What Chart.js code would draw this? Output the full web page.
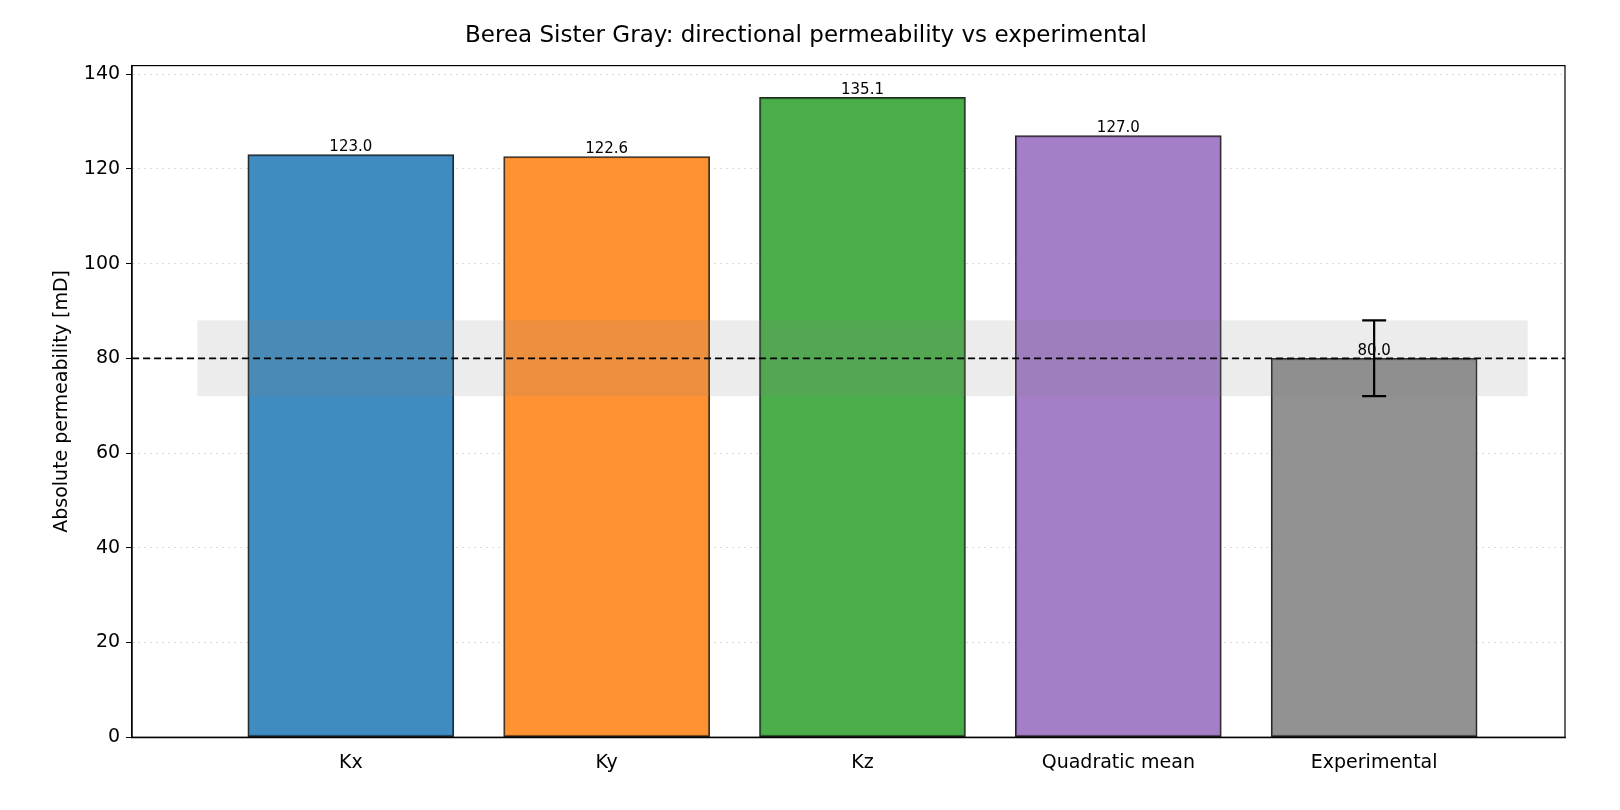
<!DOCTYPE html>
<html>
<head>
<meta charset="utf-8">
<script src="https://cdn.jsdelivr.net/npm/chart.js@4.4.0/dist/chart.umd.min.js"></script>
<style>
  html, body { margin: 0; padding: 0; background: #fff; }
  #wrap { width: 1620px; height: 810px; }
</style>
</head>
<body>
<div id="wrap"><canvas id="permChart"></canvas></div>
<script>
// Dati
const categories = ['Kx', 'Ky', 'Kz', 'Quadratic mean', 'Experimental'];
const permValues = [123.0, 122.6, 135.1, 127.0, 80.0];
const barColors = ['rgba(31,119,180,0.85)', 'rgba(255,127,14,0.85)', 'rgba(44,160,44,0.85)',
                   'rgba(148,103,189,0.85)', 'rgba(127,127,127,0.85)'];
const expValue = 80.0;
const expError = 8.0;
const bandRange = [-0.6, 4.6];
const yTicks = [0, 20, 40, 60, 80, 100, 120, 140];

// Banda grigia, linea tratteggiata, barra d'errore ed etichette
const overlayPlugin = {
    id: 'overlay',
    afterDatasetsDraw(chart) {
        const { ctx, scales: { x, y }, chartArea } = chart;
        ctx.save();
        // banda sperimentale
        ctx.fillStyle = 'rgba(128,128,128,0.15)';
        const bx0 = x.getPixelForValue(bandRange[0]);
        const bx1 = x.getPixelForValue(bandRange[1]);
        const by0 = y.getPixelForValue(expValue + expError);
        const by1 = y.getPixelForValue(expValue - expError);
        ctx.fillRect(bx0, by0, bx1 - bx0, by1 - by0);
        // linea tratteggiata
        ctx.strokeStyle = '#000';
        ctx.lineWidth = 1.8;
        ctx.setLineDash([7, 4]);
        ctx.beginPath();
        ctx.moveTo(chartArea.left, y.getPixelForValue(expValue));
        ctx.lineTo(chartArea.right, y.getPixelForValue(expValue));
        ctx.stroke();
        ctx.setLineDash([]);
        // etichette valori
        ctx.fillStyle = '#000';
        ctx.font = '15px "DejaVu Sans"';
        ctx.textAlign = 'center';
        ctx.textBaseline = 'bottom';
        permValues.forEach((v, i) => {
            ctx.fillText(v.toFixed(1), x.getPixelForValue(i), y.getPixelForValue(v));
        });
        // barra d'errore
        const ex = x.getPixelForValue(4);
        const eTop = y.getPixelForValue(expValue + expError);
        const eBot = y.getPixelForValue(expValue - expError);
        ctx.lineWidth = 2.2;
        ctx.beginPath();
        ctx.moveTo(ex, eTop); ctx.lineTo(ex, eBot);
        ctx.moveTo(ex - 12, eTop); ctx.lineTo(ex + 12, eTop);
        ctx.moveTo(ex - 12, eBot); ctx.lineTo(ex + 12, eBot);
        ctx.stroke();
        // bordo area
        ctx.lineWidth = 1.2;
        ctx.strokeRect(chartArea.left, chartArea.top, chartArea.right - chartArea.left, chartArea.bottom - chartArea.top);
        ctx.restore();
    }
};

new Chart(document.getElementById('permChart'), {
    type: 'bar',
    data: {
        datasets: [{
            data: permValues.map((v, i) => ({ x: i, y: v })),
            backgroundColor: barColors,
            borderColor: 'rgba(0,0,0,0.85)',
            borderWidth: 1.5,
            borderSkipped: false,
            barThickness: 206
        }]
    },
    options: {
        responsive: true,
        maintainAspectRatio: false,
        animation: false,
        layout: { padding: { left: 47, right: 55, top: 12, bottom: 30 } },
        plugins: {
            legend: { display: false },
            tooltip: { enabled: false },
            title: {
                display: true,
                text: 'Berea Sister Gray: directional permeability vs experimental',
                color: '#000',
                font: { family: 'DejaVu Sans', size: 23, weight: 'normal' },
                padding: { top: 10, bottom: 16 }
            }
        },
        scales: {
            x: {
                type: 'linear',
                offset: false,
                min: -0.855,
                max: 4.746,
                afterBuildTicks: axis => { axis.ticks = categories.map((c, i) => ({ value: i })); },
                ticks: {
                    callback: v => categories[v],
                    color: '#000',
                    font: { family: 'DejaVu Sans', size: 19 },
                    autoSkip: false,
                    maxRotation: 0,
                    padding: 6
                },
                grid: { display: false },
                border: { color: '#000', width: 1.2 }
            },
            y: {
                min: 0,
                max: 141.8,
                afterBuildTicks: axis => { axis.ticks = yTicks.map(v => ({ value: v })); },
                ticks: {
                    color: '#000',
                    font: { family: 'DejaVu Sans', size: 19 },
                    padding: 6
                },
                grid: {
                    color: 'rgba(0,0,0,0.15)',
                    tickColor: '#000',
                    tickLength: 6
                },
                title: {
                    display: true,
                    text: 'Absolute permeability [mD]',
                    color: '#000',
                    font: { family: 'DejaVu Sans', size: 19 }
                },
                border: { color: '#000', width: 1.2, dash: [2, 4] }
            }
        }
    },
    plugins: [overlayPlugin]
});
</script>
</body>
</html>
